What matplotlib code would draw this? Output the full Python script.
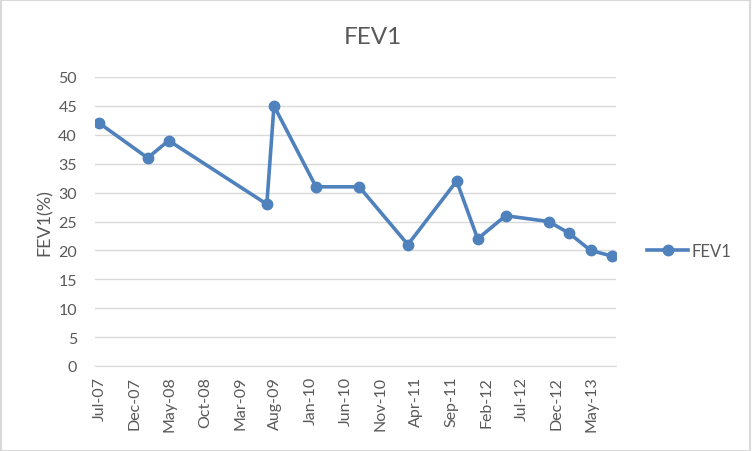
import numpy as np
import pandas as pd
import matplotlib
matplotlib.use("Agg")
import matplotlib.pyplot as plt

# data
dates = pd.to_datetime([
    "2007-07-01", "2008-01-26", "2008-04-26", "2009-06-25", "2009-07-26",
    "2010-01-24", "2010-07-30", "2011-02-26", "2011-09-25", "2011-12-25",
    "2012-04-24", "2012-10-27", "2013-01-23", "2013-04-27", "2013-07-30",
])
fev1 = [42, 36, 39, 28, 45, 31, 31, 21, 32, 22, 26, 25, 23, 20, 19]

tick_dates = pd.date_range("2007-07-01", "2013-05-01", freq="5MS")
tick_labels = [d.strftime("%b-%y") for d in tick_dates]

plt.rcParams["font.family"] = ["Lato", "DejaVu Sans"]
text_color = "#595959"
grid_color = "#D9D9D9"
blue = "#4F81BD"

fig = plt.figure(figsize=(7.52, 4.52), dpi=100)
ax = fig.add_axes([95 / 752, 1 - 367 / 452, (616 - 95) / 752, (367 - 78) / 452])

ax.plot(dates, fev1, color=blue, linewidth=2.6, marker="o", markersize=7.5,
        label="FEV1", zorder=3)

ax.set_ylim(0, 50)
ax.set_yticks(np.arange(0, 51, 5))
ax.set_xlim(pd.Timestamp("2007-06-12"), pd.Timestamp("2013-08-15"))
ax.set_xticks(tick_dates)
ax.set_xticklabels(tick_labels, rotation=90)

ax.grid(axis="y", color=grid_color, linewidth=1)
ax.set_axisbelow(True)
for s in ["top", "right", "left"]:
    ax.spines[s].set_visible(False)
ax.spines["bottom"].set_color(grid_color)
ax.tick_params(axis="both", length=0, labelsize=11.5, labelcolor=text_color)
ax.tick_params(axis="x", pad=7)
ax.tick_params(axis="y", pad=13)

ax.set_ylabel("FEV1(%)", fontsize=13, color=text_color, labelpad=4)
fig.text(373 / 752, 1 - 37 / 452, "FEV1", ha="center", va="center",
         fontsize=17.5, color=text_color)

leg = fig.legend(loc="center left", bbox_to_anchor=(640 / 752, 1 - 252 / 452),
                 frameon=False, fontsize=12, handlelength=2.5,
                 handletextpad=0.2, borderaxespad=0)
for t in leg.get_texts():
    t.set_color(text_color)

# light frame around the chart area
fig.patches.append(plt.Rectangle((0.001, 0.001), 0.997, 0.996, transform=fig.transFigure,
                                 fill=False, edgecolor=grid_color, linewidth=1.5))

fig.savefig("out.png", dpi=100)
